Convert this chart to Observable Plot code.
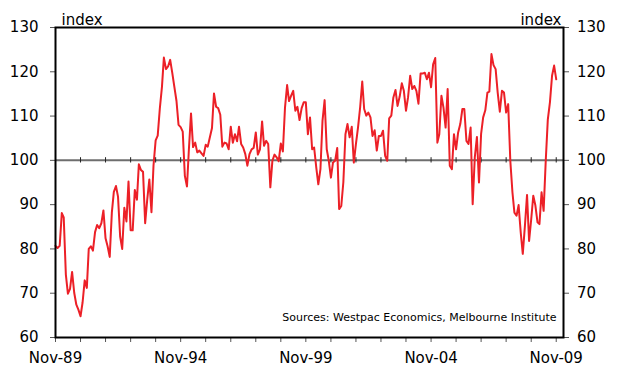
<!DOCTYPE html>
<html><head><meta charset="utf-8">
<script src="https://cdn.jsdelivr.net/npm/d3@7"></script>
<script src="https://cdn.jsdelivr.net/npm/@observablehq/plot@0.6"></script>
<style>body{margin:0;background:#fff} svg{display:block}</style>
</head><body><div id="chart"></div>
<script>
// Monthly index values, starting Nov 1989
const sentimentNov89toOct94 = [80.7, 80.2, 80.7, 88.1, 87.1, 74.2, 69.9, 71.0, 74.8, 70.1,
  67.4, 66.3, 64.8, 67.9, 72.9, 71.2, 80.0, 80.6, 79.6, 83.8,
  85.4, 84.7, 85.8, 88.7, 82.4, 80.6, 78.2, 88.2, 92.9, 94.2,
  91.8, 82.8, 80.0, 89.3, 86.2, 95.2, 84.2, 84.2, 93.3, 91.1,
  99.1, 97.8, 97.4, 85.8, 91.1, 95.7, 88.3, 98.9, 104.5, 105.6,
  111.7, 116.6, 123.2, 120.6, 121.2, 122.7, 119.8, 116.6, 113.4, 108];
const sentimentNov94toOct99 = [107.5, 106.5, 96.5, 94.1, 102.5, 110.6, 103, 104, 101.8, 102.2,
  101.6, 101, 103.5, 103.1, 105.2, 107.3, 115.1, 112.1, 111.8, 110.3,
  103.1, 104, 103.8, 102.5, 107.6, 104, 105.9, 104.3, 107.6, 103.7,
  102.9, 101.4, 98.8, 101.4, 102.5, 102.8, 106.3, 101.3, 102.5, 108.8,
  103.3, 104.4, 103.7, 93.9, 99.9, 101.3, 100.7, 99.8, 103.8, 102,
  111.9, 117, 113.4, 114.6, 115.7, 111.2, 112.1, 109.1, 111.8, 113.1];
const sentimentNov99toOct04 = [113.1, 105.9, 109.7, 102.5, 102.9, 98.4, 94.6, 98, 108.9, 113.6,
  102.5, 99.9, 96.1, 99.5, 99.9, 102.8, 89, 89.7, 95, 105.9,
  108.2, 105.2, 107.6, 99.5, 103.7, 107.4, 111.9, 117.8, 111.6, 110.1,
  110.8, 109.7, 105.5, 106.8, 102.2, 105.5, 105.5, 106.7, 101, 99.9,
  109.5, 110.1, 114.2, 115.9, 112.3, 114.4, 117.4, 115.7, 111.2, 114.2,
  119.1, 116.1, 116.8, 115.7, 112.8, 119.6, 119.6, 119.8, 118.3, 119.8];
const sentimentNov04toNov09 = [116.5, 121.7, 123.1, 104, 105.9, 114.6, 111.9, 107.4, 116.1, 98.8,
  98, 105.9, 102.5, 106.3, 108.2, 111.6, 111.6, 104.4, 103.7, 107.4,
  90.1, 100.7, 105.3, 95, 106, 109.7, 111.3, 115.3, 115.5, 124,
  121.5, 120.6, 115.3, 111, 115.7, 115.3, 110.8, 112.7, 99.9, 92.8,
  88.2, 87.5, 89.9, 83.7, 78.9, 85.2, 92.2, 81.8, 86.7, 92,
  89.8, 86, 85.6, 92.8, 88.6, 99.9, 109.2, 113.1, 119.1, 121.4,
  118.3];

const yTicks = [60, 70, 80, 90, 100, 110, 120, 130];
const xTickYears = [1989,1990,1991,1992,1993,1994,1995,1996,1997,1998,1999,2000,2001,2002,2003,2004,2005,2006,2007,2008,2009];
const xLabelYears = [1989, 1994, 1999, 2004, 2009];
const axisTitle = "index";
const sourceNote = "Sources: Westpac Economics, Melbourne Institute";

const values = [].concat(sentimentNov89toOct94, sentimentNov94toOct99, sentimentNov99toOct04, sentimentNov04toNov09);
const data = values.map((v, i) => ({date: new Date(Date.UTC(1989, 10 + i, 1)), value: v}));
const tickDates = xTickYears.map(y => new Date(Date.UTC(y, 10, 1)));
const fmt = d => xLabelYears.includes(d.getUTCFullYear()) ? "Nov-" + String(d.getUTCFullYear()).slice(2) : "";

const chart = Plot.plot({
  width: 619, height: 369,
  marginLeft: 55, marginRight: 56, marginTop: 27, marginBottom: 32,
  style: {fontFamily: "DejaVu Sans", fontSize: "15px", background: "white", color: "black"},
  x: {type: "utc", domain: [new Date(Date.UTC(1989, 10, 1)), new Date(Date.UTC(2010, 1, 15))]},
  y: {domain: [60, 130]},
  marks: [
    Plot.ruleY([100], {stroke: "#6e6e6e", strokeWidth: 2}),
    Plot.ruleX(tickDates, {x: d => d, y1: 99.4, y2: 100.6, stroke: "#222", strokeWidth: 1}),
    Plot.line(data, {x: "date", y: "value", stroke: "#ec2027", strokeWidth: 2}),
    Plot.axisY({anchor: "left", ticks: yTicks, tickSize: 5, tickPadding: 12, label: null, fontSize: 15, stroke: "#555"}),
    Plot.axisY({anchor: "right", ticks: yTicks, tickSize: 5, tickPadding: 8.5, label: null, fontSize: 15, stroke: "#555"}),
    Plot.axisX({ticks: tickDates, tickFormat: fmt, tickSize: 5, tickPadding: 10, label: null, fontSize: 15, stroke: "#555"}),
    Plot.frame({stroke: "black", strokeWidth: 2}),
    Plot.text([axisTitle], {text: d => d, frameAnchor: "top-left", textAnchor: "start", dx: 6, dy: -13, fontSize: 15}),
    Plot.text([axisTitle], {text: d => d, frameAnchor: "top-right", textAnchor: "end", dx: -2, dy: -13, fontSize: 15}),
    Plot.text([sourceNote], {text: d => d, frameAnchor: "bottom-right", textAnchor: "end", dx: -7, dy: -17, fontSize: 11})
  ]
});
document.getElementById("chart").appendChild(chart);
</script>
</body></html>
